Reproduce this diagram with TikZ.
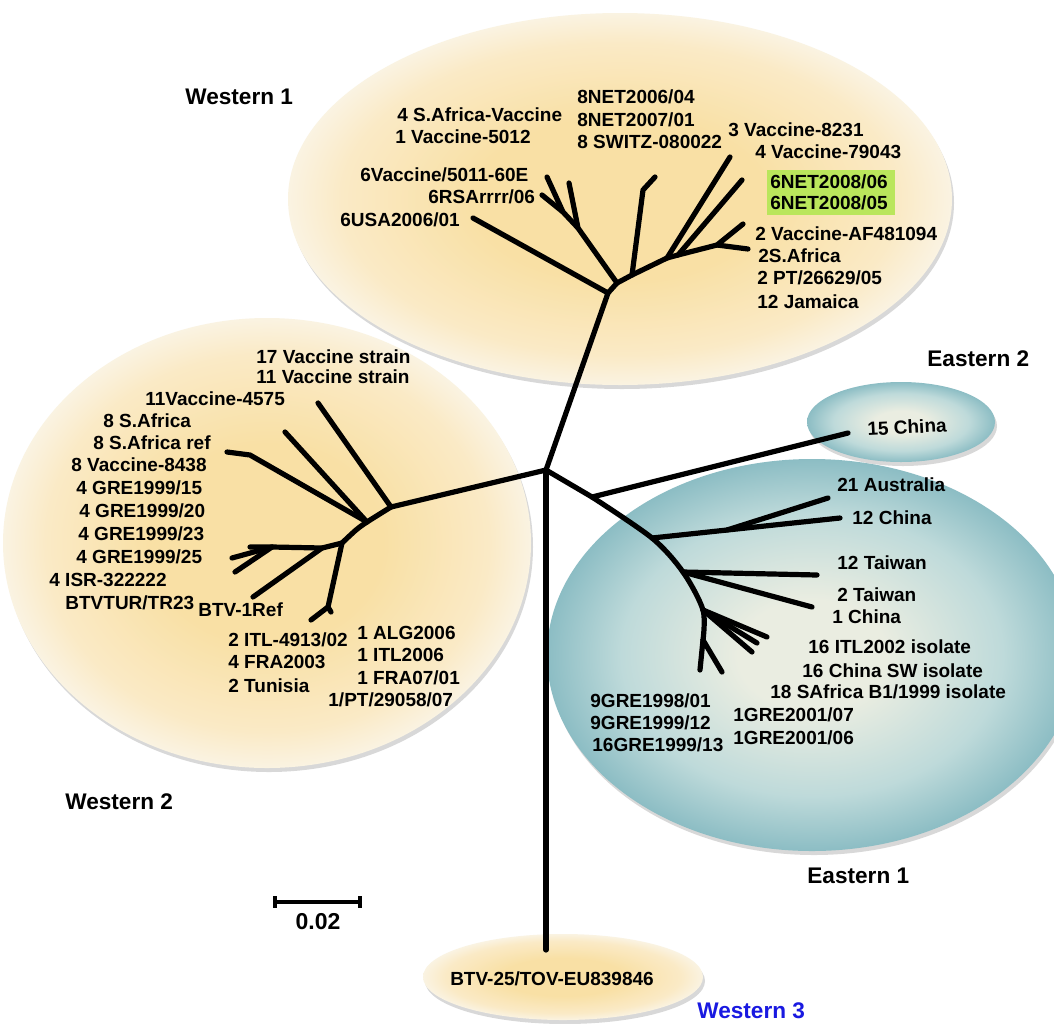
\documentclass[tikz,border=0pt]{standalone}
\usepackage{fontspec}
\setmainfont{Liberation Sans}
\usetikzlibrary{shadows}
\definecolor{tanin}{RGB}{249,224,165}
\definecolor{tanmid}{RGB}{250,234,198}
\definecolor{tanout}{RGB}{250,243,226}
\definecolor{bluein}{RGB}{234,237,225}
\definecolor{bluemid}{RGB}{190,218,218}
\definecolor{blueout}{RGB}{140,189,196}
\definecolor{hl}{RGB}{186,230,92}
\definecolor{wblue}{RGB}{25,25,225}
\pgfdeclareradialshading{tanshade}{\pgfpoint{0bp}{0bp}}{color(0bp)=(tanin); color(11bp)=(tanin); color(21bp)=(tanmid); color(25bp)=(tanout); color(50bp)=(tanout)}
\pgfdeclareradialshading{blueshade}{\pgfpoint{0bp}{0bp}}{color(0bp)=(bluein); color(7bp)=(bluein); color(18bp)=(bluemid); color(25bp)=(blueout); color(50bp)=(blueout)}
\begin{document}
\begin{tikzpicture}[x={(0.5pt,0)}, y={(0,-0.5pt)},
  tree/.style={line width=2.6pt, line cap=round, line join=round},
  lab/.style={font=\fontsize{9.5}{11}\selectfont\bfseries, anchor=west, inner sep=0pt, text height=6.8pt, text depth=0pt},
  head/.style={font=\fontsize{11.3}{13}\selectfont\bfseries, anchor=west, inner sep=0pt, text height=8.1pt, text depth=0pt},
  tanblob/.style={shading=tanshade, drop shadow={shadow xshift=1pt, shadow yshift=-2pt, opacity=0.3, fill=black!50}},
  blueblob/.style={shading=blueshade, drop shadow={shadow xshift=1pt, shadow yshift=-2pt, opacity=0.3, fill=black!50}}]
\useasboundingbox (0,0) rectangle (1054,1023);
\fill[white] (0,0) rectangle (1054,1023);
% clusters
\shade[tanblob] (620,199) ellipse [x radius=166pt, y radius=93pt];
\shade[tanblob] (267,543) ellipse [x radius=132pt, y radius=112.5pt];
\shade[blueblob] (812,655) ellipse [x radius=132.5pt, y radius=98pt];
\shade[blueblob] (901,422) ellipse [x radius=47pt, y radius=20pt];
\shade[tanblob] (563,977) ellipse [x radius=70pt, y radius=21.5pt];
% highlight
\fill[hl] (767,170) rectangle (895,215);
% tree coordinates
\coordinate (R) at (546,470);
\coordinate (T1) at (608,293);
\coordinate (U1) at (473,218);
\coordinate (T2) at (617,283);
\coordinate (T3) at (578,228);
\coordinate (U2) at (569,183);
\coordinate (U3) at (547,177);
\coordinate (U4j) at (563,212);
\coordinate (U4) at (542,195);
\coordinate (T4) at (632,275);
\coordinate (U5a) at (643,190);
\coordinate (U5) at (655,177);
\coordinate (T5) at (667,258);
\coordinate (U6) at (730,157);
\coordinate (T6) at (678,255);
\coordinate (U7) at (742,180);
\coordinate (T7) at (717,245);
\coordinate (U8) at (743,224);
\coordinate (U9) at (748,249);
\coordinate (L1) at (391,507);
\coordinate (V1) at (318,403);
\coordinate (L2) at (367,522);
\coordinate (V2) at (285,432);
\coordinate (V3a) at (250,455);
\coordinate (V3) at (227,452);
\coordinate (Lm) at (356,530);
\coordinate (L3) at (342,543);
\coordinate (LA) at (272,547);
\coordinate (V4) at (250,547);
\coordinate (V5) at (232,558);
\coordinate (V6) at (235,572);
\coordinate (LBj) at (322,548);
\coordinate (V7) at (253,597);
\coordinate (LB) at (328,607);
\coordinate (V8) at (311,620);
\coordinate (V9) at (331,612);
\coordinate (E1) at (592,497);
\coordinate (W1) at (848,433);
\coordinate (E2) at (652,538);
\coordinate (W2) at (840,518);
\coordinate (E2a) at (727,530);
\coordinate (W3) at (828,498);
\coordinate (E3) at (683,572);
\coordinate (W4) at (817,575);
\coordinate (W5) at (812,607);
\coordinate (E4) at (703,610);
\coordinate (W6) at (767,637);
\coordinate (W7) at (757,643);
\coordinate (W8) at (752,652);
\coordinate (E5) at (703,640);
\coordinate (W9) at (700,670);
\coordinate (W10) at (722,672);
\coordinate (B) at (546,950);
% tree
\draw[tree] (R) -- (T1) -- (U1);
\draw[tree] (T1) -- (T2) -- (T3) -- (U2);
\draw[tree] (T3) -- (U4j) -- (U3);
\draw[tree] (U4j) -- (U4);
\draw[tree] (T2) -- (T4) -- (U5a) -- (U5);
\draw[tree] (T4) -- (T5) -- (U6);
\draw[tree] (T5) -- (T6) -- (U7);
\draw[tree] (T6) -- (T7) -- (U8);
\draw[tree] (T7) -- (U9);
\draw[tree] (R) -- (L1) -- (V1);
\draw[tree] plot[smooth] coordinates {(L1) (L2) (Lm) (L3)};
\draw[tree] (L2) -- (V2);
\draw[tree] (L2) -- (V3a) -- (V3);
\draw[tree] (L3) -- (LBj) -- (LA) -- (V4);
\draw[tree] (LA) -- (V5);
\draw[tree] (LA) -- (V6);
\draw[tree] (LBj) -- (V7);
\draw[tree] (L3) -- (LB) -- (V8);
\draw[tree] (LB) -- (V9);
\draw[tree] (R) -- (E1) -- (W1);
\draw[tree] plot[smooth] coordinates {(E1) (E2) (E3) (E4) (E5)};
\draw[tree] (E2) -- (W2);
\draw[tree] (E2a) -- (W3);
\draw[tree] (E3) -- (W4);
\draw[tree] (E3) -- (W5);
\draw[tree] (E4) -- (W6);
\draw[tree] (E4) -- (W7);
\draw[tree] (E4) -- (W8);
\draw[tree] (E5) -- (W9);
\draw[tree] (E5) -- (W10);
\draw[tree] (R) -- (B);
% scale bar
\coordinate (S1) at (275,902);
\coordinate (S2) at (360,902);
\draw[line width=2pt] (S1) -- (S2);
\draw[line width=2pt] ([yshift=3pt]S1) -- ([yshift=-3pt]S1);
\draw[line width=2pt] ([yshift=3pt]S2) -- ([yshift=-3pt]S2);
\node[font=\fontsize{11.5}{13}\selectfont\bfseries, inner sep=0pt] (scale) at (318,922) {0.02};
% headings
\node[head] (hW1) at (185,96) {Western 1};
\node[head] (hW2) at (65,801) {Western 2};
\node[head, text=wblue] (hW3) at (697,1010) {Western 3};
\node[head] (hE1) at (807,875) {Eastern 1};
\node[head] (hE2) at (927,358) {Eastern 2};
% Western 1 labels
\node[lab] (a1) at (397,115) {4 S.Africa-Vaccine};
\node[lab] (a2) at (395,137) {1 Vaccine-5012};
\node[lab] (a3) at (360,175) {6Vaccine/5011-60E};
\node[lab] (a4) at (428,197) {6RSArrrr/06};
\node[lab] (a5) at (340,220) {6USA2006/01};
\node[lab] (a6) at (577,97) {8NET2006/04};
\node[lab] (a7) at (577,120) {8NET2007/01};
\node[lab] (a8) at (577,142) {8 SWITZ-080022};
\node[lab] (a9) at (728,130) {3 Vaccine-8231};
\node[lab] (a10) at (755,152) {4 Vaccine-79043};
\node[lab] (a11) at (770,182) {6NET2008/06};
\node[lab] (a12) at (770,203) {6NET2008/05};
\node[lab] (a13) at (755,234) {2 Vaccine-AF481094};
\node[lab] (a14) at (758,256) {2S.Africa};
\node[lab] (a15) at (757,278) {2 PT/26629/05};
\node[lab] (a16) at (757,302) {12 Jamaica};
% Western 2 labels
\node[lab] (b1) at (256,357) {17 Vaccine strain};
\node[lab] (b2) at (256,377) {11 Vaccine strain};
\node[lab] (b3) at (145,399) {11Vaccine-4575};
\node[lab] (b4) at (103,421) {8 S.Africa};
\node[lab] (b5) at (93,443) {8 S.Africa ref};
\node[lab] (b6) at (71,465) {8 Vaccine-8438};
\node[lab] (b7) at (76,488) {4 GRE1999/15};
\node[lab] (b8) at (79,511) {4 GRE1999/20};
\node[lab] (b9) at (78,534) {4 GRE1999/23};
\node[lab] (b10) at (76,557) {4 GRE1999/25};
\node[lab] (b11) at (49,580) {4 ISR-322222};
\node[lab] (b12) at (65,603) {BTVTUR/TR23};
\node[lab] (b13) at (198,610) {BTV-1Ref};
\node[lab] (b14) at (228,640) {2 ITL-4913/02};
\node[lab] (b15) at (228,662) {4 FRA2003};
\node[lab] (b16) at (228,686) {2 Tunisia};
\node[lab] (b17) at (357,633) {1 ALG2006};
\node[lab] (b18) at (357,655) {1 ITL2006};
\node[lab] (b19) at (357,678) {1 FRA07/01};
\node[lab] (b20) at (328,700) {1/PT/29058/07};
% Western 3
\node[lab, anchor=center] (c1) at (552,979) {BTV-25/TOV-EU839846};
% Eastern labels
\node[lab, anchor=center, rotate=3] (d1) at (907,427) {15 China};
\node[lab] (d2) at (837,485) {21 Australia};
\node[lab] (d3) at (852,518) {12 China};
\node[lab] (d4) at (837,563) {12 Taiwan};
\node[lab] (d5) at (837,595) {2 Taiwan};
\node[lab] (d6) at (832,617) {1 China};
\node[lab] (d7) at (808,647) {16 ITL2002 isolate};
\node[lab] (d8) at (802,671) {16 China SW isolate};
\node[lab] (d9) at (770,692) {18 SAfrica B1/1999 isolate};
\node[lab] (d10) at (590,701) {9GRE1998/01};
\node[lab] (d11) at (590,723) {9GRE1999/12};
\node[lab] (d12) at (592,745) {16GRE1999/13};
\node[lab] (d13) at (733,715) {1GRE2001/07};
\node[lab] (d14) at (733,738) {1GRE2001/06};
\end{tikzpicture}
\end{document}
